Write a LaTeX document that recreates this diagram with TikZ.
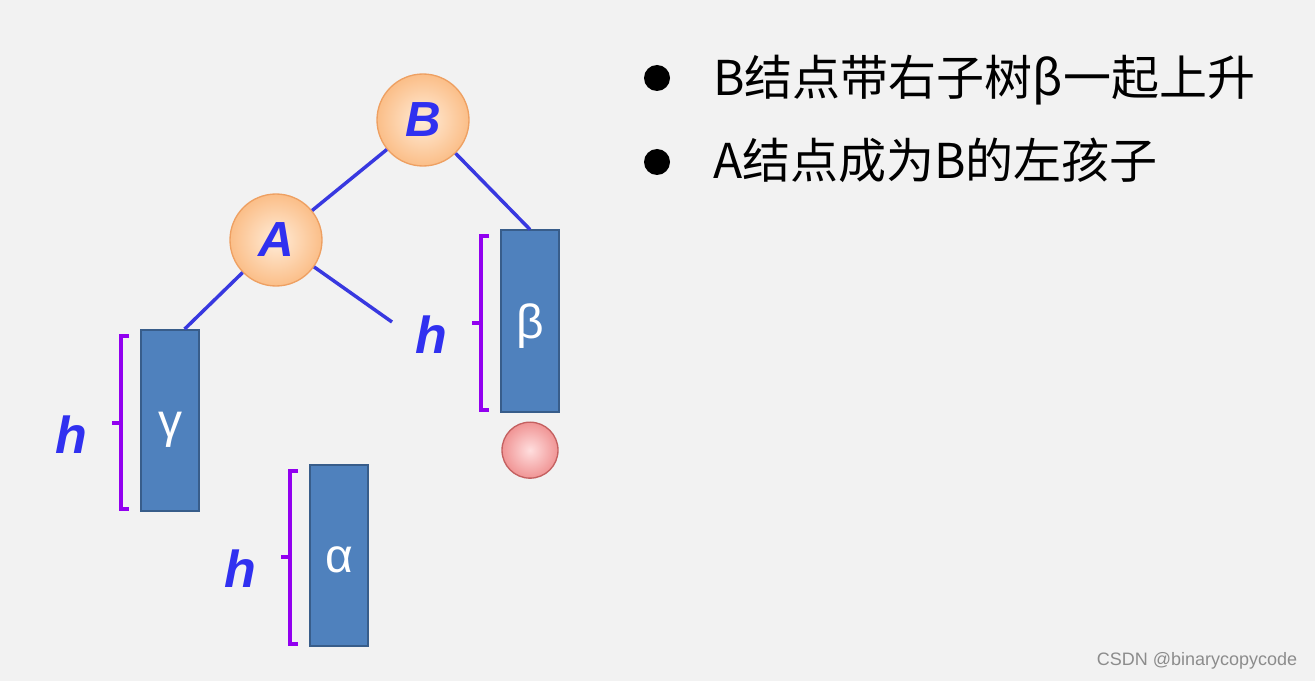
\documentclass[tikz,border=0pt]{standalone}
\usepackage{fontspec}
\setmainfont{Liberation Sans}
\newfontfamily\cjk{Noto Sans CJK SC}
\usetikzlibrary{positioning,calc}

\definecolor{bgGray}{RGB}{242,242,242}
\definecolor{linkBlue}{RGB}{56,56,224}
\definecolor{letterBlue}{RGB}{48,48,240}
\definecolor{bracePurple}{RGB}{146,0,240}
\definecolor{boxFill}{RGB}{79,129,189}
\definecolor{boxEdge}{RGB}{56,93,138}
\definecolor{ballIn}{RGB}{255,236,216}
\definecolor{ballOut}{RGB}{251,190,136}
\definecolor{ballEdge}{RGB}{238,160,98}
\definecolor{nilIn}{RGB}{255,222,222}
\definecolor{nilOut}{RGB}{240,148,148}
\definecolor{nilEdge}{RGB}{196,96,96}

\tikzset{
  avlnode/.style={circle, draw=ballEdge, line width=1pt, inner color=ballIn, outer color=ballOut,
    minimum size=69pt, inner sep=0pt, text=letterBlue, font=\bfseries\itshape\fontsize{37}{37}\selectfont},
  nilnode/.style={circle, draw=nilEdge, line width=1pt, inner color=nilIn, outer color=nilOut,
    minimum size=42pt, inner sep=0pt},
  subtree/.style={rectangle, draw=boxEdge, fill=boxFill, line width=1.5pt, minimum width=43.5pt,
    minimum height=135.75pt, inner sep=0pt, text height=26pt, text depth=0pt,
    text=white, font=\fontsize{36}{36}\selectfont},
  link/.style={draw=linkBlue, line width=2.6pt},
  hbrace/.style={draw=bracePurple, line width=3pt},
  hlabel/.style={text=letterBlue, inner sep=0pt, font=\bfseries\itshape\fontsize{39}{39}\selectfont},
  bullet/.style={circle, fill=black, minimum size=19.5pt, inner sep=0pt},
  point/.style={anchor=base west, inner sep=0pt, font=\cjk\fontsize{36}{36}\selectfont},
}

\begin{document}
\begin{tikzpicture}[x=0.75pt,y=0.75pt,yscale=-1,xscale=1]
\useasboundingbox (0,0) rectangle (1315,681);
\fill[bgGray] (0,0) rectangle (1315,681);

% tree nodes
\node[avlnode] (B) at (423,120) {B};
\node[avlnode] (A) at (276,240) {A};

% subtrees
\node[subtree] (gamma) at (170,420.5) {γ};
\node[subtree] (beta) at (530,321) {β};
\node[subtree] (alpha) at (339,555) {α};
\node[nilnode, below=6.75pt of beta] (nil) {};

% links
\coordinate (Aright) at (392,322);
\draw[link] (B) -- (A);
\draw[link] (B) -- (beta.north);
\draw[link] (A) -- ([xshift=11pt]gamma.north);
\draw[link] (A) -- (Aright);

% heights
\foreach \t in {gamma,beta,alpha} {
  \draw[hbrace] ($(\t.north west)+(-11,7)$) -- ++(-8,0) |- ($(\t.south west)+(-11,-3)$);
  \draw[hbrace] ($(\t.west)+(-19,2)$) -- ++(-9,0);
  \node[hlabel] (h\t) at ($(\t.west)+(-69,14)$) {h};
}

% text
\node[bullet] (dot1) at (657,78) {};
\node[bullet] (dot2) at (657,162) {};
\node[point] (line1) at (713,96) {B结点带右子树β一起上升};
\node[point] (line2) at (713,179) {A结点成为B的左孩子};

\node[text=black!45, font=\fontsize{13.5}{13.5}\selectfont] (mark) at (1197,661) {CSDN @binarycopycode};
\end{tikzpicture}
\end{document}
